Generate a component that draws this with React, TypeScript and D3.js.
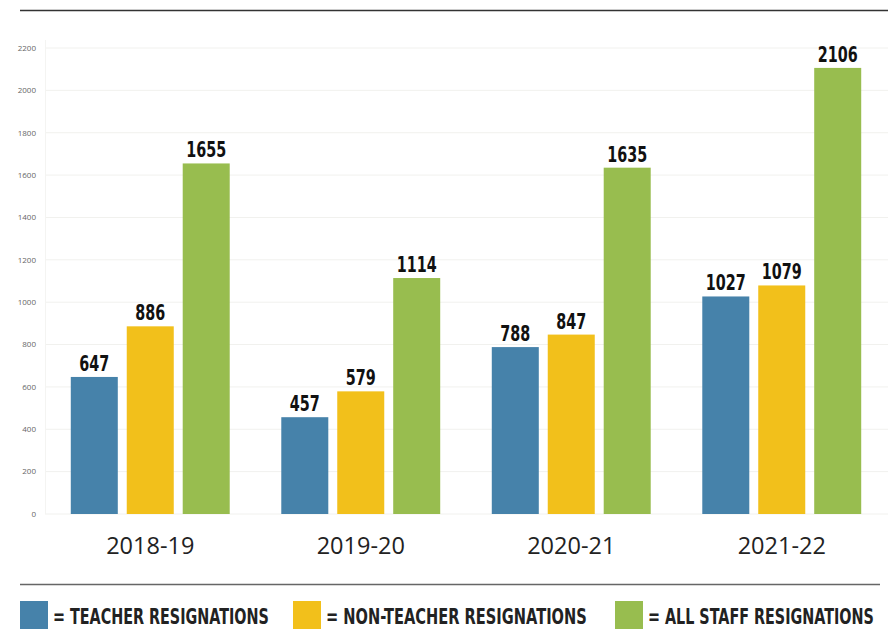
import * as d3 from 'd3';
import React, { useLayoutEffect, useRef, useState } from 'react';

const years = ['2018-19', '2019-20', '2020-21', '2021-22'];
const teacher = [647, 457, 788, 1027];
const nonTeacher = [886, 579, 847, 1079];
const allStaff = [1655, 1114, 1635, 2106];
const yTicks = [0, 200, 400, 600, 800, 1000, 1200, 1400, 1600, 1800, 2000, 2200];

const seriesNames = ['= TEACHER RESIGNATIONS', '= NON-TEACHER RESIGNATIONS', '= ALL STAFF RESIGNATIONS'];
const seriesColors = ['#4682aa', '#f2c01b', '#98bd4f'];

const W = 888;
const H = 629;

// no condensed face installed, so squeeze a normal bold one horizontally
const condensed = '"DejaVu Sans", sans-serif';

// text squeezed to a given width (anchor: start or middle)
const NarrowText = ({ x, y, width, anchor = 'start', children, ...rest }: any) => {
    const ref = useRef<SVGTextElement>(null);
    const [k, setK] = useState(1);
    useLayoutEffect(() => {
        if (ref.current) {
            const len = ref.current.getComputedTextLength();
            if (len > 0) setK(width / len);
        }
    }, [width, children]);
    return (
        <g transform={`translate(${x},${y}) scale(${k},1)`}>
            <text ref={ref} x={0} y={0} textAnchor={anchor} {...rest}>{children}</text>
        </g>
    );
};

const App = () => {
    const series = [teacher, nonTeacher, allStaff];

    const x0 = d3.scaleBand<string>().domain(years).range([45, 887]).paddingInner(0.245).paddingOuter(0.1225);
    const x1 = d3.scaleBand<number>().domain([0, 1, 2]).range([0, x0.bandwidth()]).paddingInner(0.16).paddingOuter(0);
    const y = d3.scaleLinear().domain([0, 2200]).range([514, 48]);

    // legend: swatch left edge and text width
    const legendX = [20, 293, 615];
    const legendLen = [216, 261, 226];

    return (
        <svg width={W} height={H} style={{ position: 'absolute', left: 0, top: 0, background: '#fff' }}>
            {/* top rule */}
            <line x1={20} x2={888} y1={10.5} y2={10.5} stroke="#333" strokeWidth={1.3} />

            {/* grid + y ticks */}
            {yTicks.map(t => (
                <g key={t}>
                    <line x1={45} x2={888} y1={y(t)} y2={y(t)} stroke="#f1f1ee" strokeWidth={1} />
                    <text x={36} y={y(t)} dy="0.35em" textAnchor="end" fontSize={8}
                        fontFamily='"Open Sans", sans-serif' fill="#666">{t}</text>
                </g>
            ))}
            <line x1={45.5} x2={45.5} y1={40} y2={514} stroke="#f4f4f2" />

            {/* bars */}
            {years.map((yr, i) => (
                <g key={yr} transform={`translate(${x0(yr)},0)`}>
                    {series.map((s, j) => (
                        <g key={j}>
                            <rect x={x1(j)} y={y(s[i])} width={x1.bandwidth()} height={y(0) - y(s[i])}
                                fill={seriesColors[j]} />
                            <NarrowText x={(x1(j) ?? 0) + x1.bandwidth() / 2} y={y(s[i]) - 6} anchor="middle"
                                width={String(s[i]).length * 10} fontFamily={condensed} fontWeight="bold"
                                fontSize={21} fill="#111">{s[i]}</NarrowText>
                        </g>
                    ))}
                    <text x={x0.bandwidth() / 2} y={554} textAnchor="middle" fontSize={23.5}
                        fontFamily='"Open Sans", sans-serif' fill="#222">{yr}</text>
                </g>
            ))}

            {/* bottom rule */}
            <line x1={20} x2={880} y1={584.5} y2={584.5} stroke="#666" strokeWidth={1.3} />

            {/* legend */}
            {seriesNames.map((name, j) => (
                <g key={name}>
                    <rect x={legendX[j]} y={601} width={28} height={28} fill={seriesColors[j]} />
                    <NarrowText x={legendX[j] + 33} y={624} width={legendLen[j]} fontFamily={condensed}
                        fontWeight="bold" fontSize={21} fill="#222">{name}</NarrowText>
                </g>
            ))}
        </svg>
    );
};

export default App;
